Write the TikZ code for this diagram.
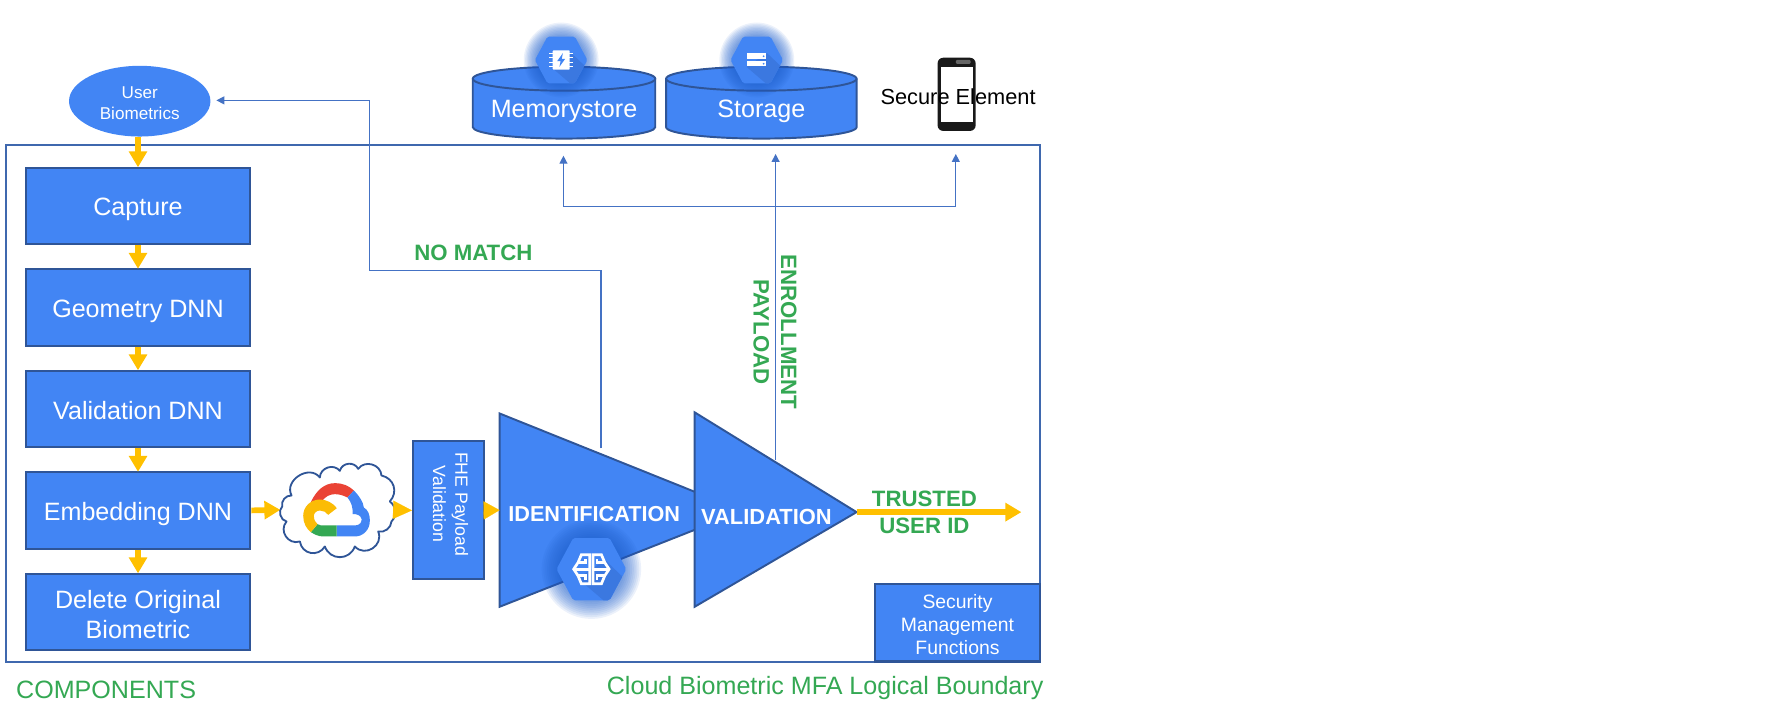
\documentclass[tikz,border=0pt]{standalone}
\usepackage{fontspec}
\setmainfont{Liberation Sans}
\usetikzlibrary{arrows.meta,shapes.geometric,calc}
\definecolor{gblue}{HTML}{4285F4}
\definecolor{gedge}{HTML}{2F5597}
\definecolor{frameblue}{HTML}{3F68AE}
\definecolor{linkblue}{HTML}{4472C4}
\definecolor{amber}{HTML}{FFC000}
\definecolor{lblgreen}{HTML}{34A853}
\definecolor{hexshade}{HTML}{3B78E0}
\definecolor{glowblue}{HTML}{1F5FCB}
\definecolor{gred}{HTML}{EA4335}
\definecolor{ggreen}{HTML}{34A853}
\definecolor{gyellow}{HTML}{FBBC05}
\newcommand{\fs}[1]{\fontsize{#1}{26}\selectfont}
\newcommand{\lo}{\rule{0pt}{22pt}}
\tikzset{
  stepbox/.style={draw=gedge,line width=1.7pt,fill=gblue,text=white,inner sep=0pt,align=center,minimum width=197pt,minimum height=67pt,font=\fontsize{22}{26}\selectfont},
  cyl/.style={draw=gedge,line width=1.7pt,fill=gblue},
  onblue/.style={text=white,inner sep=0pt,align=center},
  greenlbl/.style={text=lblgreen,inner sep=0pt,align=center},
  flow/.style={draw=amber,line width=5pt,-{Triangle[length=14pt,width=15.5pt]},shorten >=-0.5pt},
  headonly/.style={draw=amber,line width=0.1pt,-{Triangle[length=#1,width=16pt]},shorten >=0pt},
  link/.style={draw=linkblue,line width=1.1pt,-{Triangle[length=7pt,width=7pt]}},
  linkplain/.style={draw=linkblue,line width=1.1pt}
}
\newcommand{\hexbase}[3]{%
  \foreach \rr in {0,1,...,9}{
    \fill[glowblue,opacity=0.085] (#1,#2) circle ({(22+\rr*1.2)*#3*1pt});
  }
  \begin{scope}[shift={(#1,#2)},scale=#3]
    \begin{scope}
      \clip[rounded corners=1.5pt] (-23,0)--(-12,-20.5)--(12,-20.5)--(23,0)--(12,20.5)--(-12,20.5)--cycle;
      \fill[gblue] (-24,-21) rectangle (24,21);
      \fill[hexshade] (9,-6)--(30,14)--(30,24)--(12,24)--(-9,6)--cycle;
    \end{scope}
  \end{scope}}
\begin{document}
\begin{tikzpicture}[x=1pt,y=-1pt]
\useasboundingbox (0,0) rectangle (1568.5,631.3);
% frame
\draw[frameblue,line width=1.8pt] (5,127) rectangle (912,580);
% user
\node[ellipse,fill=gblue,text=white,inner sep=0pt,minimum width=124pt,minimum height=62pt,align=center,font=\fontsize{15}{18.5}\selectfont] (user) at (122.5,88.7) {\rule{0pt}{14pt}User\\Biometrics};
% steps
\node[stepbox] (cap) at (121,180.5) {\lo Capture};
\node[stepbox] (geo) at (121,269.5) {\lo Geometry DNN};
\node[stepbox] (val) at (121,358.5) {\rule{0pt}{18pt}Validation DNN};
\node[stepbox] (emb) at (121,447.5) {\lo Embedding DNN};
\node[stepbox] (del) at (121,536.5) {\rule{0pt}{20pt}Delete Original\\Biometric};
% cylinders
\draw[cyl] (414.5,69) -- (414.5,111.5) arc[start angle=180,end angle=0,x radius=80,y radius=10] -- (574.5,69);
\draw[cyl] (494.5,69) ellipse[x radius=80,y radius=10.5];
\draw[cyl] (584,69) -- (584,111.5) arc[start angle=180,end angle=0,x radius=83.5,y radius=10] -- (751,69);
\draw[cyl] (667.5,69) ellipse[x radius=83.5,y radius=10.5];
\node[onblue,font=\fs{22}] (mem) at (494.5,98) {Memorystore};
\node[onblue,font=\fs{22}] (sto) at (667.5,98) {Storage};
% memorystore icon
\hexbase{492}{52.6}{1}
\begin{scope}[shift={(492,52.6)}]
  \fill[white,rounded corners=0.8pt] (-7.5,-8.5) rectangle (7.5,8.5);
  \foreach \yy in {-6,-2,2,6}{\draw[white,line width=1.1pt] (-10.5,\yy)--(10.5,\yy);}
  \fill[gblue] (1.5,-6)--(-3.5,1)--(-0.5,1)--(-1.5,6)--(3.5,-1)--(0.5,-1)--cycle;
\end{scope}
% storage icon
\hexbase{663.5}{52.6}{1}
\begin{scope}[shift={(663.5,52.6)}]
  \fill[white] (-8.5,-5.7) rectangle (8.5,-1); \fill[white] (-8.5,1) rectangle (8.5,5.7);
  \fill[gblue] (6,-3.3) circle (0.8pt); \fill[gblue] (6,3.3) circle (0.8pt);
\end{scope}
% secure element
\fill[black!90,rounded corners=5pt] (822,50.6) rectangle (855.4,114.8);
\fill[black!60,rounded corners=1pt] (838,52.5) rectangle (851,56);
\fill[white] (825.3,58.4) rectangle (853,107.2);
\node[inner sep=0pt,text=black,font=\fs{19.1}] (sec) at (840,85) {Secure Element};
% triangles
\coordinate (idA) at (438,362.5); \coordinate (idB) at (438,532); \coordinate (idC) at (651,448);
\coordinate (vaA) at (609,361.5); \coordinate (vaB) at (609,532); \coordinate (vaC) at (751,449);
\draw[gedge,line width=1.7pt,fill=gblue,line join=miter] (idA)--(idC)--(idB)--cycle;
\hexbase{518.5}{499}{1.33}
\begin{scope}[shift={(518.5,499)},line width=2.4pt,white,line cap=butt,line join=miter]
  \foreach \sx in {-1,1}{\begin{scope}[xscale=\sx]
    \draw (1.5,-12.6)--(8.8,-12.6)--(11.7,-5.8)--(15.5,0)--(11.7,5.8)--(8.8,12.8)--(1.5,12.8)--cycle;
    \draw (11.7,-5.8)--(5,-5.8)--(5,-9);
    \draw (15.5,0)--(1.5,0);
    \draw (11.7,5.8)--(5,5.8)--(5,9.3);
  \end{scope}}
\end{scope}
\draw[gedge,line width=1.7pt,fill=gblue,line join=miter] (vaA)--(vaC)--(vaB)--cycle;
\node[onblue,font=\bfseries\fs{19}] (idt) at (521,450.5) {IDENTIFICATION};
\node[onblue,font=\bfseries\fs{19.2}] (vat) at (672,453) {VALIDATION};
% FHE
\node[draw=gedge,line width=1.7pt,fill=gblue,inner sep=0pt,minimum width=62pt,minimum height=121pt] (fhe) at (393,447.5) {};
\node[onblue,rotate=-90,font=\fontsize{15.5}{19.5}\selectfont] (fhet) at (395,442) {FHE Payload\\Validation};
% cloud
\node[inner sep=0pt,minimum width=100pt,minimum height=84pt] (cld) at (295.5,447) {};
\begin{scope}[shift={(241,372.5)},scale=0.2921]
  \draw[gedge,line width=1.6pt,fill=white,line join=round]
    (22,245) to[bend left=55] (50,212)
    to[bend left=85,looseness=1.3] (135,158)
    to[bend left=70,looseness=1.2] (195,138)
    to[bend left=70,looseness=1.2] (250,132)
    to[bend left=70,looseness=1.2] (320,152)
    to[bend left=60,looseness=1.2] (345,230)
    to[bend left=50] (350,290)
    to[bend left=50] (310,320)
    to[bend left=80,looseness=1.4] (240,365)
    to[bend left=70,looseness=1.3] (150,365)
    to[bend left=70,looseness=1.3] (75,350)
    to[bend left=75,looseness=1.3] (35,290)
    to[bend left=65] (22,245) -- cycle;
  \fill[gred] (108,232) .. controls (125,195) and (150,175) .. (180,175) .. controls (205,175) and (222,183) .. (237,197) -- (218,218) .. controls (205,212) and (195,208) .. (180,208) .. controls (165,208) and (152,215) .. (142,228) .. controls (130,225) and (118,227) .. (108,232) -- cycle;
  \fill[gblue] (237,197) .. controls (255,215) and (265,232) .. (267,248) .. controls (280,255) and (286,272) .. (285,288) .. controls (285,315) and (265,335) .. (240,335) -- (185,335) -- (185,302) -- (240,302) .. controls (256,302) and (262,290) .. (260,282) .. controls (258,272) and (245,266) .. (233,268) .. controls (235,250) and (230,232) .. (218,218) -- cycle;
  \fill[ggreen] (185,302) -- (185,335) -- (145,335) .. controls (130,335) and (118,328) .. (108,322) -- (128,298) .. controls (135,302) and (140,302) .. (145,302) -- cycle;
  \fill[gyellow] (108,322) .. controls (95,312) and (85,295) .. (85,273) .. controls (85,245) and (108,224) .. (135,224) .. controls (155,224) and (175,235) .. (186,250) -- (160,270) .. controls (155,262) and (145,257) .. (135,257) .. controls (125,257) and (117,265) .. (117,273) .. controls (117,285) and (122,293) .. (128,298) -- cycle;
\end{scope}
% flow arrows
\draw[flow] (user.south -| cap.north) -- (cap.north);
\draw[flow] (cap) -- (geo) ;
\draw[flow] (geo) -- (val);
\draw[flow] (val) -- (emb);
\draw[flow] (emb) -- (del);
\draw[flow] (emb.east) -- (cld.west);
\draw[headonly=16.5pt] (cld.east) -- (fhe.west);
\draw[headonly=14pt] (fhe.east) -- ($(idA)!0.5!(idB)$);
\coordinate (out) at (895,449);
\draw[flow] (vaC) -- (out);
% blue links
\coordinate (idUp) at (527,393);
\coordinate (b1) at (527,237); \coordinate (b2) at (324,237); \coordinate (b3) at (324,88);
\draw[link,shorten >=5pt] (idUp) -- (b1) -- (b2) -- (b3) -- (user.east |- b3);
\coordinate (vaUp) at (680,403); \coordinate (vaTop) at (680,135);
\draw[link] (vaUp) -- (vaTop);
\coordinate (h1) at (494,181); \coordinate (h2) at (838,181);
\coordinate (h1t) at (494,136.5); \coordinate (h2t) at (838,135);
\draw[link] (h1) -- (h1t);
\draw[link] (h2) -- (h2t);
\draw[linkplain] (h1) -- (h2);
% security
\node[draw=gedge,line width=1.9pt,fill=gblue,text=white,inner sep=0pt,minimum width=145pt,minimum height=68pt,align=center,font=\fontsize{17}{20.3}\selectfont] (sec2) at (839.5,546) {\rule{0pt}{16pt}Security\\Management\\Functions};
% labels
\node[greenlbl,font=\bfseries\fs{19.5}] (nm) at (415,222) {NO MATCH};
\node[greenlbl,rotate=-90,font=\bfseries\fs{19.5}] (en) at (691.5,291) {ENROLLMENT};
\node[greenlbl,rotate=-90,font=\bfseries\fs{19.5}] (pl) at (667.5,291) {PAYLOAD};
\node[greenlbl,font=\bfseries\fs{19.5}] (tr) at (810.5,437) {TRUSTED};
\node[greenlbl,font=\bfseries\fs{19.5}] (ui) at (810.5,461) {USER ID};
\node[greenlbl,font=\fs{22}] (comp) at (93,605) {COMPONENTS};
\node[greenlbl,font=\fs{22},anchor=east] (lb) at (915,603.5) {Cloud Biometric MFA Logical Boundary};
\end{tikzpicture}
\end{document}
